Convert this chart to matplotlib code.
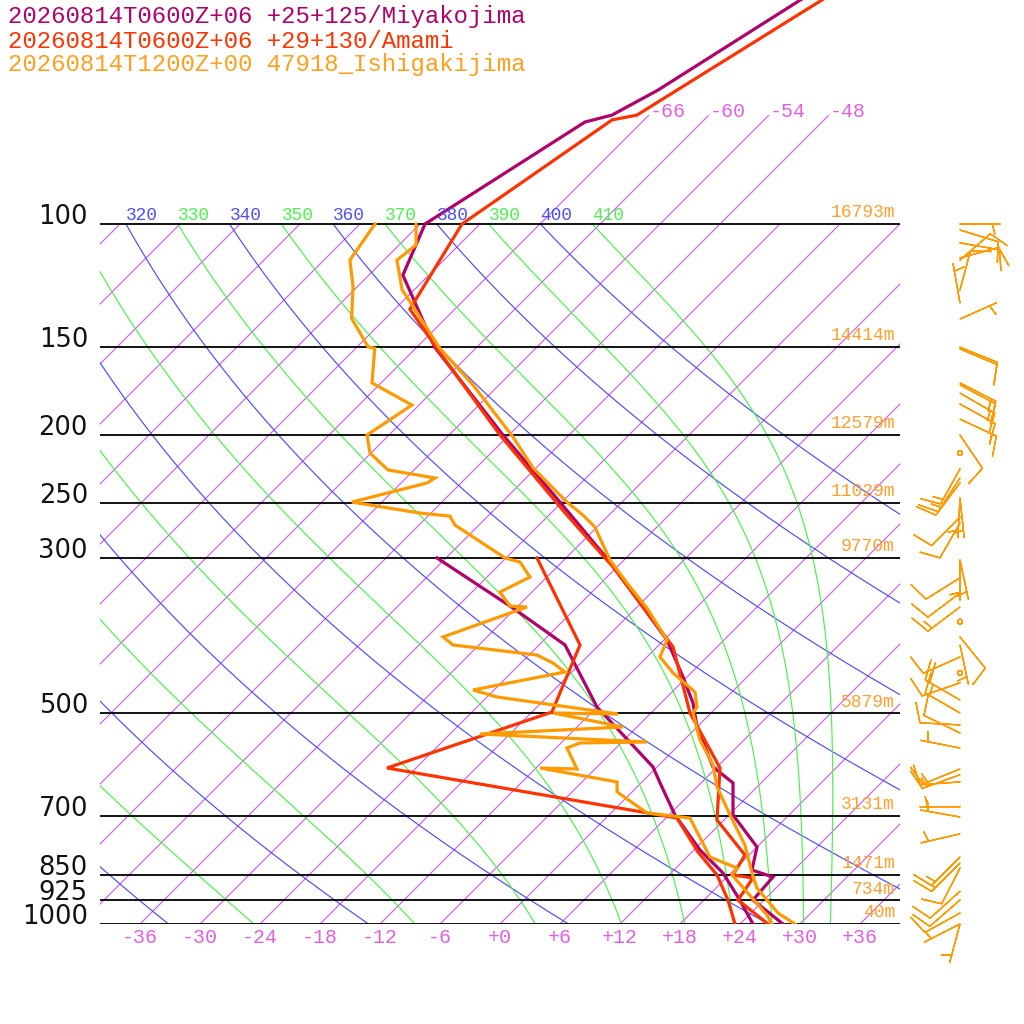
import numpy as np
import matplotlib
matplotlib.use("Agg")
import matplotlib.pyplot as plt

# ---------------------------------------------------------------------------
# soundings (pressure hPa, temperature / dewpoint degC)
# ---------------------------------------------------------------------------
station_labels = ["20260814T0600Z+06 +25+125/Miyakojima",
                  "20260814T0600Z+06 +29+130/Amami",
                  "20260814T1200Z+00 47918_Ishigakijima"]

miyako_t_p = [40, 64.4, 69.9, 71.5, 100, 118.3, 150, 200.2, 249.6, 304, 392.9, 443.7,
              483.4, 523.1, 596.6, 628.8, 698.7, 776.2, 837.4, 856.9, 924.2, 1000]
miyako_t = [-59.2, -67.6, -69.7, -71.7, -77.5, -74.6, -64.2, -48.6, -36.2, -25.2, -11.7, -6.4,
            -2.8, 0.0, 5.6, 9.2, 12.4, 18.0, 19.8, 22.6, 22.9, 28.3]
miyako_td_p = [300, 353.7, 399.4, 489.8, 596.6, 628.8, 698.7, 784, 845.6, 915.1, 1000]
miyako_td = [-42.9, -30.3, -21.4, -12.0, -0.4, 1.9, 6.6, 12.6, 17.2, 21.1, 25.3]

amami_t_p = [40, 69.9, 71.0, 100, 132.3, 150.5, 200.2, 260.5, 309, 402, 499.5, 598.6,
             710.3, 797, 851.1, 859.7, 924.2, 1000]
amami_t = [-56.9, -67.2, -69.2, -73.8, -70.5, -63.9, -48.9, -34.2, -24.4, -10.4, -2.1, 6.4,
           11.3, 17.6, 18.4, 20.7, 21.4, 26.8]
amami_td_p = [300, 399.4, 498, 598.6, 705.7, 789.2, 851.1, 924.2, 1000]
amami_td = [-32.9, -19.9, -16.0, -26.9, 7.1, 12.6, 16.8, 20.4, 23.5]

ishi_t_p = [100, 107.1, 112.6, 124.2, 130.5, 150.5, 169.8, 201.5, 223.1, 249.6, 260.5, 271,
            302, 325.8, 353.7, 392.9, 415.5, 437.9, 466.2, 489.8, 499.5, 533.5, 545.9, 592.7,
            637.1, 698.7, 771.3, 845.6, 888.5, 964.5, 1000]
ishi_t = [-78.4, -76.3, -76.7, -73.2, -70.7, -63.6, -56.6, -47.4, -42.3, -35.5, -32.6, -30.2,
          -25.4, -21.4, -16.9, -11.7, -10.7, -7.8, -3.7, -2.0, -1.8, 0.7, 1.6, 5.4,
          8.0, 12.1, 16.6, 20.1, 22.1, 26.7, 29.5]
ishi_td_p = [100, 112.6, 123, 136.4, 149.8, 150.5, 168.7, 181.4, 200.2, 212.4, 224.6, 230.6,
             234.4, 249.6, 258.8, 261.4, 269.2, 300, 304, 319.4, 335.6, 351.4, 352.5, 389,
             399.4, 412.8, 423.8, 436.5, 463.1, 473.9, 501.2, 499.5, 523.1, 535.3, 549.5, 551.3,
             560.5, 600.6, 598.6, 626.7, 647.6, 694.1, 705.7, 802.3, 831.8, 851.1, 970.8, 1000]
ishi_td = [-82.5, -81.4, -78.4, -75.4, -70.9, -70.1, -66.9, -60.7, -62.2, -60.1, -56.6, -51.1,
           -51.4, -57.0, -49.1, -45.8, -44.4, -36.1, -34.2, -31.7, -33.2, -30.8, -29.0, -34.4,
           -32.6, -23.2, -20.8, -18.7, -26.1, -23.0, -9.2, -15.8, -7.4, -21.0, -3.5, -10.1,
           -10.9, -7.8, -11.6, -2.5, -1.5, 3.6, 8.4, 14.3, 18.1, 18.3, 25.8, 27.2]

# Ishigakijima winds: pressure, direction (deg from), speed (kt)
wind_p = [100, 102, 106.4, 111.8, 112.6, 124.2, 129.7, 136.7, 150, 150.8, 168.7, 169.8,
          174.4, 180.8, 190, 200.2, 212.4, 223.8, 230.6, 234.4, 246.2, 246.2, 262.3, 267.5,
          302, 302, 320.3, 336.6, 352.5, 370, 389, 399.4, 415.5, 437.9, 452.4, 478.6,
          499.5, 519.5, 533.5, 560.5, 600.6, 612, 626.7, 680, 703.3, 743.5, 802.3, 818.3,
          831.8, 898, 924.2, 964.5, 1000, 1000]
wind_dir = [90, 107, 100, 75, 49, 15, 350, 66, 112, 113, 117, 118,
            120, 119, 115, 146, 0, 209, 213, 217, 183, 174, 225, 210,
            168, 180, 238, 233, 233, 0, 141, 168, 246, 0, 251, 300,
            300, 273, 296, 281, 248, 250, 266, 270, 280, 257, 225, 225,
            207, 228, 229, 241, 243, 195]
wind_spd = [5, 10, 10, 10, 10, 10, 5, 5, 10, 10, 15, 15,
            15, 10, 15, 10, 0, 15, 15, 10, 5, 5, 10, 10,
            5, 5, 10, 10, 15, 0, 10, 5, 10, 0, 10, 20,
            15, 10, 10, 5, 15, 15, 10, 5, 5, 5, 15, 15,
            10, 10, 10, 10, 5, 5]

isobars = [100, 150, 200, 250, 300, 500, 700, 850, 925, 1000]
heights = ["16793m", "14414m", "12579m", "11029m", "9770m", "5879m", "3131m", "1471m", "734m", "40m"]
temp_ticks = list(range(-36, 37, 6))

# ---------------------------------------------------------------------------
C_MIYAKO = "#b0006a"
C_AMAMI = "#ff3300"
C_ISHI = "#ff9a00"
C_ISO = "#cc55ee"
C_ISO_TXT = "#e060e0"
C_DRY = "#4d4dff"
C_MOIST = "#4df04d"
MONO = "Liberation Mono"

SKEW = 70.0
KAPPA = 0.2857
RD, CP, LV, EPS = 287.04, 1005.7, 2.501e6, 0.622


def skew_x(t, p):
    return np.asarray(t, dtype=float) + SKEW * np.log10(1000.0 / np.asarray(p, dtype=float))


def moist_lapse(t, p):
    es = 6.112 * np.exp(17.67 * (t - 273.15) / (t - 29.65))
    rs = EPS * es / (p - es)
    return (RD * t + LV * rs) / (p * (CP + LV ** 2 * rs * EPS / (RD * t ** 2)))


def moist_adiabat(theta_e, pp):
    t = theta_e * (pp[0] / 1000.0) ** KAPPA
    out = [t]
    for i in range(1, len(pp)):
        dp = pp[i] - pp[i - 1]
        k1 = moist_lapse(t, pp[i - 1])
        k2 = moist_lapse(t + k1 * dp, pp[i])
        t = t + 0.5 * (k1 + k2) * dp
        out.append(t)
    return np.array(out) - 273.15


def tlabel(t):
    return f"{t:+d}" if t >= 0 else str(t)


fig = plt.figure(figsize=(10.24, 10.24), dpi=100)
ax = fig.add_axes([100 / 1024, 100 / 1024, 800 / 1024, 924 / 1024])
ax.set_yscale("log")
ax.set_xlim(-40, 40)
p_top = 1000 * 10 ** (-924 / 700)
ax.set_ylim(1000, p_top)
ax.axis("off")

# isotherms
for t in range(-108, 37, 6):
    top = 70 if -66 <= t <= -48 else 100
    pp = np.array([top, 1000])
    ax.plot(skew_x([t, t], pp), pp, color=C_ISO, lw=0.8)
    if top == 70:
        ax.annotate(tlabel(t), xy=(skew_x(t, 70), 70),
                    xytext=(1, -1), textcoords="offset points", ha="left", va="baseline",
                    color=C_ISO_TXT, fontsize=14.4, family=MONO)

# dry adiabats and moist adiabats
pp = np.logspace(2, 3, 300)
for theta in range(240, 401, 20):
    tt = theta * (pp / 1000.0) ** KAPPA - 273.15
    ax.plot(skew_x(tt, pp), pp, color=C_DRY, lw=0.85)
for theta_e in range(250, 411, 20):
    tt = moist_adiabat(theta_e, pp)
    ax.plot(skew_x(tt, pp), pp, color=C_MOIST, lw=0.85)

for theta in range(240, 411, 10):
    col = C_DRY if theta % 20 == 0 else C_MOIST
    t100 = theta * 0.1 ** KAPPA - 273.15
    lab = ax.annotate(str(theta), xy=(skew_x(t100, 100), 100), xytext=(0, 3),
                      textcoords="offset points", ha="left", va="baseline",
                      color=col, fontsize=12.8, family=MONO)
    lab.set_clip_path(ax.patch)

# isobars, pressure and height labels
for p, h in zip(isobars, heights):
    ax.axhline(p, color="black", lw=1.3)
    ax.text(-41.2, p, str(p), ha="right", va="baseline", fontsize=18.5,
            family="DejaVu Sans", color="#111111", clip_on=False)
    ax.annotate(h, xy=(39.5, p), xytext=(0, 2), textcoords="offset points",
                ha="right", va="bottom", color="#ffa030", fontsize=13, family=MONO)

for t in temp_ticks:
    ax.annotate(tlabel(t), xy=(t, 1000), xytext=(0, -9.5),
                textcoords="offset points", ha="center", va="center",
                color=C_ISO_TXT, fontsize=14.4, family=MONO, annotation_clip=False)

# soundings
for (tp, tv, dp, dv, col) in [(miyako_t_p, miyako_t, miyako_td_p, miyako_td, C_MIYAKO),
                              (amami_t_p, amami_t, amami_td_p, amami_td, C_AMAMI),
                              (ishi_t_p, ishi_t, ishi_td_p, ishi_td, C_ISHI)]:
    ax.plot(skew_x(tv, tp), tp, color=col, lw=2.3, solid_joinstyle="miter")
    ax.plot(skew_x(dv, dp), dp, color=col, lw=2.3, solid_joinstyle="miter")

# wind barbs
wd = np.radians(wind_dir)
ws = np.array(wind_spd, dtype=float)
u = -ws * np.sin(wd)
v = -ws * np.cos(wd)
ax.barbs(np.full(len(wind_p), 46.0), wind_p, u, v, length=7.6, color=C_ISHI,
         linewidth=1.0, clip_on=False,
         sizes=dict(height=0.5, spacing=0.13, emptybarb=0.06))

for i, (lab, col) in enumerate(zip(station_labels, [C_MIYAKO, C_AMAMI, "#ffa020"])):
    fig.text(8 / 1024, 1 - (17 + 24 * i) / 1024, lab, ha="left", va="center",
             color=col, fontsize=17.3, family=MONO)

fig.savefig("out.png", dpi=100)
